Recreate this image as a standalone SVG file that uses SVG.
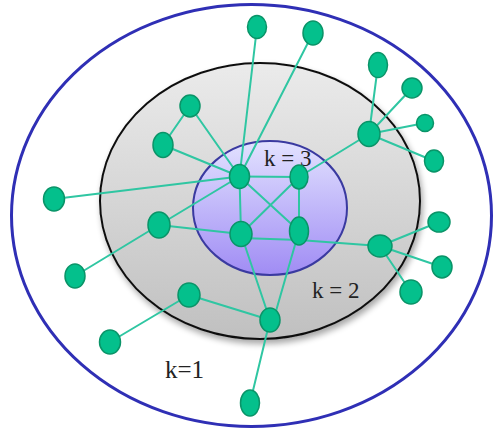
<svg xmlns="http://www.w3.org/2000/svg" width="501" height="433" viewBox="0 0 501 433">
<defs>
<linearGradient id="gGray" x1="0" y1="0" x2="0" y2="1">
<stop offset="0" stop-color="#ebebeb"/><stop offset="1" stop-color="#c0c0c0"/>
</linearGradient>
<linearGradient id="gBlue" x1="0" y1="0" x2="0" y2="1">
<stop offset="0" stop-color="#e2e2ff"/><stop offset="1" stop-color="#a08cf4"/>
</linearGradient>
<filter id="sh" x="-20%" y="-20%" width="140%" height="140%">
<feGaussianBlur in="SourceAlpha" stdDeviation="3"/>
<feOffset dx="2" dy="4" result="b"/>
<feComponentTransfer><feFuncA type="linear" slope="0.35"/></feComponentTransfer>
<feMerge><feMergeNode/><feMergeNode in="SourceGraphic"/></feMerge>
</filter>
</defs>
<style>
.n{fill:#04c08c;stroke:#0a9468;stroke-width:1.5}
.e line{stroke:#2fc6a2;stroke-width:2;stroke-linecap:round}
.lbl{font-family:"Liberation Serif","Times New Roman",serif;fill:#222}
</style>
<g id="shells">
<ellipse cx="251.5" cy="215.5" rx="240" ry="211" fill="#ffffff" stroke="#2f2fb5" stroke-width="3"/>
<ellipse cx="260" cy="201" rx="160" ry="138" fill="url(#gGray)" stroke="#111" stroke-width="2" filter="url(#sh)"/>
<ellipse cx="270" cy="208" rx="77" ry="67" fill="url(#gBlue)" stroke="#3a3aa0" stroke-width="2"/>
</g>
<g id="labels">
<text class="lbl" x="264" y="166" font-size="23">k = 3</text>
<text class="lbl" x="312" y="298" font-size="23">k = 2</text>
<text class="lbl" x="165" y="378" font-size="25">k=1</text>
</g>
<g id="edges" class="e">
<line x1="257" y1="27" x2="239.5" y2="176.5"/>
<line x1="313" y1="33" x2="239.5" y2="176.5"/>
<line x1="190" y1="106" x2="239.5" y2="176.5"/>
<line x1="190" y1="106" x2="163" y2="145"/>
<line x1="163" y1="145" x2="239.5" y2="176.5"/>
<line x1="54" y1="199" x2="239.5" y2="176.5"/>
<line x1="159" y1="225" x2="239.5" y2="176.5"/>
<line x1="159" y1="225" x2="241" y2="234"/>
<line x1="75" y1="276" x2="159" y2="225"/>
<line x1="239.5" y1="176.5" x2="299" y2="177"/>
<line x1="239.5" y1="176.5" x2="241" y2="234"/>
<line x1="239.5" y1="176.5" x2="299" y2="231"/>
<line x1="299" y1="177" x2="241" y2="234"/>
<line x1="299" y1="177" x2="299" y2="231"/>
<line x1="241" y1="238" x2="299" y2="240"/>
<line x1="299" y1="240" x2="380" y2="246"/>
<line x1="241" y1="234" x2="270" y2="320"/>
<line x1="299" y1="231" x2="274" y2="318"/>
<line x1="189" y1="295" x2="270" y2="320"/>
<line x1="110" y1="342" x2="189" y2="295"/>
<line x1="270" y1="320" x2="250" y2="403"/>
<line x1="369" y1="134" x2="299" y2="177"/>
<line x1="369" y1="134" x2="378" y2="65"/>
<line x1="369" y1="134" x2="412" y2="88"/>
<line x1="369" y1="134" x2="425" y2="123"/>
<line x1="369" y1="134" x2="434" y2="161"/>
<line x1="380" y1="246" x2="439" y2="222"/>
<line x1="380" y1="246" x2="442" y2="267"/>
<line x1="380" y1="246" x2="411" y2="292"/>
</g>
<g id="nodes">
<g id="nM"><ellipse class="n" cx="257" cy="27" rx="9.5" ry="11.5"/></g>
<g id="nN"><ellipse class="n" cx="313" cy="33" rx="10" ry="12"/></g>
<g id="nL"><ellipse class="n" cx="190" cy="106" rx="10" ry="11"/></g>
<g id="nK"><ellipse class="n" cx="163" cy="145" rx="10" ry="12.5"/></g>
<g id="nJ"><ellipse class="n" cx="54" cy="199" rx="10.5" ry="12"/></g>
<g id="nA"><ellipse class="n" cx="239.5" cy="176.5" rx="10" ry="12"/></g>
<g id="nB"><ellipse class="n" cx="299" cy="177" rx="9" ry="12"/></g>
<g id="nC"><ellipse class="n" cx="241" cy="234" rx="11" ry="12.5"/></g>
<g id="nD"><ellipse class="n" cx="299" cy="231" rx="9.5" ry="14"/></g>
<g id="nE"><ellipse class="n" cx="270" cy="320" rx="10" ry="12"/></g>
<g id="nF"><ellipse class="n" cx="189" cy="295" rx="11" ry="12"/></g>
<g id="nG"><ellipse class="n" cx="159" cy="225" rx="11" ry="13"/></g>
<g id="nH"><ellipse class="n" cx="75" cy="276" rx="10" ry="12"/></g>
<g id="nI"><ellipse class="n" cx="110" cy="342" rx="10.5" ry="12"/></g>
<g id="nO"><ellipse class="n" cx="250" cy="403" rx="9.5" ry="13"/></g>
<g id="nP"><ellipse class="n" cx="369" cy="134" rx="11" ry="12.5"/></g>
<g id="nQ"><ellipse class="n" cx="378" cy="65" rx="9.5" ry="12.5"/></g>
<g id="nR"><ellipse class="n" cx="412" cy="88" rx="10" ry="10"/></g>
<g id="nS"><ellipse class="n" cx="425" cy="123" rx="8.5" ry="8.5"/></g>
<g id="nT"><ellipse class="n" cx="434" cy="161" rx="9.5" ry="11"/></g>
<g id="nU"><ellipse class="n" cx="380" cy="246" rx="12" ry="11"/></g>
<g id="nV"><ellipse class="n" cx="439" cy="222" rx="11" ry="10"/></g>
<g id="nW"><ellipse class="n" cx="442" cy="267" rx="10" ry="11"/></g>
<g id="nX"><ellipse class="n" cx="411" cy="292" rx="11" ry="12"/></g>
</g>
</svg>
